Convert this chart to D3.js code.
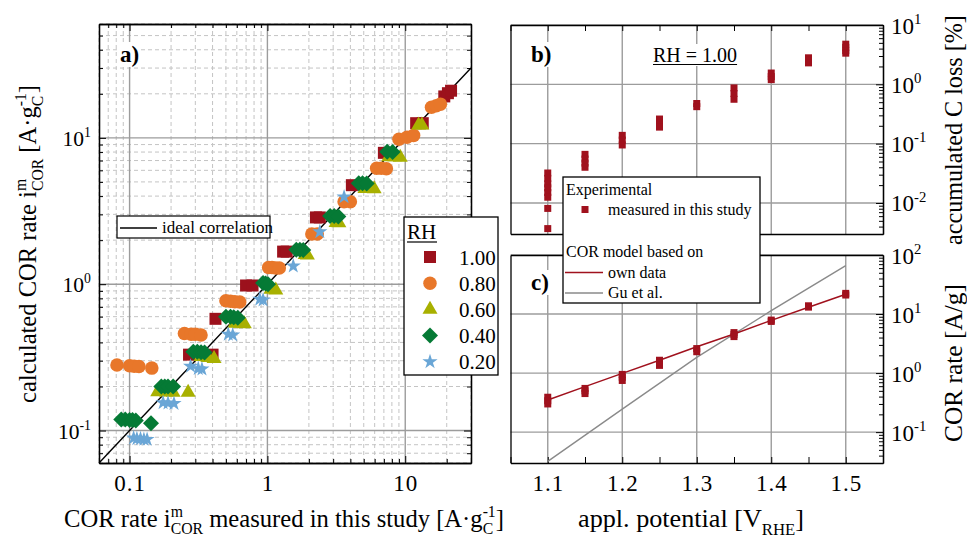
<!DOCTYPE html>
<html><head><meta charset="utf-8">
<script src="https://cdn.jsdelivr.net/npm/d3@7"></script>
<style>
body{margin:0;background:#fff}
svg{display:block}
</style>
</head><body>
<svg id="chart" width="967" height="538"></svg>
<script>
// ---------------- DATA ----------------
// Panel a: [measured, calculated] COR rate (A/gC) for each RH level
const rhLabels = ["1.00", "0.80", "0.60", "0.40", "0.20"];
const rh100 = [[0.27,0.33],[0.40,0.33],[0.42,0.58],[0.70,0.98],[0.78,0.98],[1.30,1.67],[1.38,1.67],
  [2.25,2.86],[2.40,2.86],[4.1,4.75],[7.0,7.9],[12.0,12.6],[13.4,12.6],[19.2,19.2],[20.4,20.2],[21.5,21.0]];
const rh080 = [[0.081,0.28],[0.100,0.277],[0.108,0.275],[0.117,0.274],[0.145,0.267],
  [0.25,0.46],[0.28,0.455],[0.30,0.455],[0.33,0.45],
  [0.50,0.77],[0.54,0.765],[0.58,0.76],[0.63,0.755],
  [1.02,1.30],[1.08,1.30],[1.15,1.29],[1.22,1.29],
  [2.1,2.2],[2.3,2.2],[3.6,3.66],[4.0,3.66],
  [6.2,6.2],[6.7,6.2],[7.3,6.15],[9.0,9.8],[10.3,10.1],[11.5,10.4],
  [15.5,16.2],[16.8,16.6],[18.0,17.0]];
const rh060 = [[0.16,0.184],[0.185,0.183],[0.207,0.182],[0.266,0.182],
  [0.33,0.32],[0.37,0.315],[0.41,0.31],
  [0.58,0.54],[0.63,0.54],[0.68,0.535],
  [1.06,0.92],[1.15,0.91],[1.88,1.59],[1.95,1.58],
  [3.15,2.63],[3.30,2.62],[5.1,4.5],[5.5,4.5],[5.95,4.48],
  [7.6,7.4],[8.4,7.4],[9.2,7.35],[12.5,12.2],[13.2,12.2]];
const rh040 = [[0.087,0.119],[0.093,0.119],[0.100,0.118],[0.105,0.118],[0.111,0.117],[0.143,0.112],
  [0.17,0.2],[0.18,0.2],[0.19,0.2],[0.207,0.2],
  [0.29,0.345],[0.31,0.345],[0.33,0.343],[0.35,0.342],
  [0.50,0.60],[0.54,0.60],[0.57,0.595],[0.61,0.59],
  [0.93,1.02],[0.97,1.01],[1.01,1.0],
  [1.62,1.72],[1.72,1.72],[1.82,1.71],[2.85,2.93],[3.05,2.93],[3.27,2.9],
  [4.6,4.9],[4.9,4.9],[5.25,4.88],[7.4,8.05],[8.1,8.0]];
const rh020 = [[0.107,0.089],[0.113,0.088],[0.120,0.088],[0.127,0.087],[0.134,0.087],
  [0.175,0.155],[0.19,0.154],[0.21,0.153],
  [0.277,0.275],[0.315,0.265],[0.335,0.263],
  [0.52,0.455],[0.56,0.45],[0.88,0.79],[0.93,0.78],
  [1.54,1.33],[2.4,2.28],[3.6,3.95]];
const idealEnds = [0.06, 30];

// Panel b: accumulated C loss (%) at RH = 1.00, per applied potential (V_RHE)
const potentials = [1.10, 1.15, 1.20, 1.25, 1.30, 1.35, 1.40, 1.45, 1.50];
const cLoss = [
  [0.032,0.026,0.021,0.018,0.015,0.0125,0.0081,0.0037],
  [0.066,0.055,0.047,0.040],
  [0.138,0.115,0.095],
  [0.26,0.22,0.19],
  [0.475,0.42],
  [0.87,0.70,0.56],
  [1.55,1.35,1.2],
  [2.8,2.55,2.3],
  [4.75,4.2,3.7,3.35]];
// Panel c: COR rate (A/g)
const corRate = [
  [0.39,0.34,0.30],
  [0.55,0.50,0.45],
  [0.95,0.85,0.75],
  [1.65,1.50,1.35],
  [2.6,2.3],
  [4.85,4.5,4.15],
  [7.9,7.5],
  [13.8,13.1],
  [22.4,21.0]];
const ownModel = [0.35,0.59,0.99,1.65,2.8,4.6,7.8,13.0,21.6];
const guPotentials = [1.1, 1.2, 1.3, 1.4, 1.5];
const guModel = [0.032, 0.245, 1.85, 11.4, 66];

// ---------------- HELPERS ----------------
const SERIF = '"Liberation Serif","Times New Roman",serif';
const svg = d3.select('#chart');

function rich(parent, x, y, segs, fs, anchor = 'start', rot = 0, fitLen = 0) {
  const g = parent.append('g').attr('transform', `translate(${x},${y})` + (rot ? ` rotate(${rot})` : ''));
  const t = g.append('text').attr('font-size', fs).attr('font-family', SERIF).attr('fill', '#000');
  let cur = 0, prev = 0;
  segs.forEach(s => {
    const seg = typeof s === 'string' ? {t: s} : s;
    const sp = t.append('tspan').text(seg.t);
    const target = seg.s === 'sup' ? -0.42 * fs : seg.s === 'sub' ? 0.3 * fs : 0;
    if (seg.s) sp.attr('font-size', 0.64 * fs);
    if (target !== cur) sp.attr('dy', target - cur);
    cur = target;
    if (seg.back) sp.attr('dx', -prev);
    prev = sp.node().getComputedTextLength();
  });
  const bb = t.node().getBBox();
  if (fitLen) {
    g.remove();
    return rich(parent, x, y, segs, fs * fitLen / bb.width, anchor, rot, 0);
  }
  let dx = 0;
  if (anchor === 'middle') dx = -(bb.x + bb.width / 2);
  else if (anchor === 'end') dx = -(bb.x + bb.width);
  t.attr('x', dx);
  return g;
}
function labelWithBg(parent, x, y, txt, fs, weight, underline) {
  const g = parent.append('g');
  const t = g.append('text').attr('x', x).attr('y', y).attr('font-size', fs)
    .attr('font-family', SERIF).attr('font-weight', weight).text(txt);
  const bb = t.node().getBBox();
  g.insert('rect', 'text').attr('x', bb.x - 1).attr('y', bb.y).attr('width', bb.width + 2)
    .attr('height', bb.height).attr('fill', '#fff');
  if (underline) g.append('line').attr('x1', bb.x).attr('x2', bb.x + bb.width)
    .attr('y1', y + 2.5).attr('y2', y + 2.5).attr('stroke', '#000').attr('stroke-width', 1.2);
  return g;
}
function styleAxis(g, sw = 1.3) {
  g.attr('font-family', SERIF).attr('font-size', 23);
  g.selectAll('.domain').attr('stroke', '#000').attr('stroke-width', sw);
  g.selectAll('.tick line').attr('stroke', '#000').attr('stroke-width', 1);
  g.selectAll('.tick text').attr('fill', '#000').attr('letter-spacing', 1);
}
const isDecade = d => Math.abs(Math.log10(d) - Math.round(Math.log10(d))) < 1e-9;

const shapes = {
  square: s => `M${-s/2},${-s/2}h${s}v${s}h${-s}Z`,
  circle: s => d3.symbol(d3.symbolCircle, Math.PI * (s/2) * (s/2))(),
  triangle: s => { const h = s * 0.87; return `M0,${-h*2/3}L${s/2},${h/3}L${-s/2},${h/3}Z`; },
  diamond: s => `M0,${-s/2}L${s/2},0L0,${s/2}L${-s/2},0Z`,
  star: s => d3.symbol(d3.symbolStar, (s/2) * (s/2) / 0.8908130915292852)()
};
const seriesA = [
  {label: rhLabels[0], data: rh100, color: '#9c111c', shape: 'square', size: 12},
  {label: rhLabels[1], data: rh080, color: '#e8772a', shape: 'circle', size: 13.5},
  {label: rhLabels[2], data: rh060, color: '#a8b000', shape: 'triangle', size: 15},
  {label: rhLabels[3], data: rh040, color: '#057a35', shape: 'diamond', size: 16},
  {label: rhLabels[4], data: rh020, color: '#6aa6d6', shape: 'star', size: 16}
];

// ---------------- PANEL A ----------------
const xA = d3.scaleLog().domain([0.06, 30]).range([99, 471]);
const yA = d3.scaleLog().domain([0.06, 60]).range([463, 24]);
const gA = svg.append('g');
const xAll = xA.ticks(), yAll = yA.ticks();
const xMaj = xAll.filter(isDecade), xMin = xAll.filter(d => !isDecade(d));
const yMaj = yAll.filter(isDecade), yMin = yAll.filter(d => !isDecade(d));

const gridA = gA.append('g');
gridA.selectAll('.vmin').data(xMin).join('line').attr('x1', d => xA(d)).attr('x2', d => xA(d))
  .attr('y1', 24).attr('y2', 463).attr('stroke', '#c4c4c4').attr('stroke-dasharray', '4,3').attr('stroke-width', 1);
gridA.selectAll('.hmin').data(yMin).join('line').attr('y1', d => yA(d)).attr('y2', d => yA(d))
  .attr('x1', 99).attr('x2', 471).attr('stroke', '#c4c4c4').attr('stroke-dasharray', '4,3').attr('stroke-width', 1);
gridA.selectAll('.vmaj').data(xMaj).join('line').attr('x1', d => xA(d)).attr('x2', d => xA(d))
  .attr('y1', 24).attr('y2', 463).attr('stroke', '#9c9c9c').attr('stroke-width', 1.4);
gridA.selectAll('.hmaj').data(yMaj).join('line').attr('y1', d => yA(d)).attr('y2', d => yA(d))
  .attr('x1', 99).attr('x2', 471).attr('stroke', '#9c9c9c').attr('stroke-width', 1.4);

// axes panel a
const fmtA = d => d < 1 ? '0.1' : d3.format('d')(d);
gA.append('g').attr('transform', 'translate(0,463)')
  .call(d3.axisBottom(xA).tickValues(xMaj).tickSize(-7).tickSizeOuter(0).tickPadding(12).tickFormat(fmtA)).call(styleAxis);
gA.append('g').attr('transform', 'translate(0,463)')
  .call(d3.axisBottom(xA).tickValues(xMin).tickSize(-4).tickSizeOuter(0).tickFormat('')).call(styleAxis);
gA.append('g').attr('transform', 'translate(0,24)')
  .call(d3.axisTop(xA).tickValues(xMaj).tickSize(-7).tickSizeOuter(0).tickFormat('')).call(styleAxis);
gA.append('g').attr('transform', 'translate(0,24)')
  .call(d3.axisTop(xA).tickValues(xMin).tickSize(-4).tickSizeOuter(0).tickFormat('')).call(styleAxis);
gA.append('g').attr('transform', 'translate(99,0)')
  .call(d3.axisLeft(yA).tickValues(yMaj).tickSize(-7).tickSizeOuter(0).tickFormat('')).call(styleAxis);
gA.append('g').attr('transform', 'translate(99,0)')
  .call(d3.axisLeft(yA).tickValues(yMin).tickSize(-4).tickSizeOuter(0).tickFormat('')).call(styleAxis);
gA.append('g').attr('transform', 'translate(471,0)')
  .call(d3.axisRight(yA).tickValues(yMaj).tickSize(-7).tickSizeOuter(0).tickFormat('')).call(styleAxis);
gA.append('g').attr('transform', 'translate(471,0)')
  .call(d3.axisRight(yA).tickValues(yMin).tickSize(-4).tickSizeOuter(0).tickFormat('')).call(styleAxis);
yMaj.forEach(d => rich(gA, 91, yA(d) + 8, ['10', {t: String(Math.round(Math.log10(d))), s: 'sup'}], 21.5, 'end'));

// ideal line
gA.append('path').datum(idealEnds.map(v => [v, v]))
  .attr('d', d3.line().x(d => xA(d[0])).y(d => yA(d[1])))
  .attr('stroke', '#000').attr('stroke-width', 1.4).attr('fill', 'none');

// markers
seriesA.forEach(s => {
  gA.append('g').selectAll('path').data(s.data).join('path')
    .attr('transform', d => `translate(${xA(d[0])},${yA(d[1])})`)
    .attr('d', shapes[s.shape](s.size)).attr('fill', s.color);
});

// panel a labels
labelWithBg(gA, 120, 62, 'a)', 23, 'bold');
// ideal correlation legend
const lgI = gA.append('g');
lgI.append('rect').attr('x', 117).attr('y', 216).attr('width', 153).attr('height', 22)
  .attr('fill', '#fff').attr('stroke', '#000').attr('stroke-width', 1.2);
lgI.append('line').attr('x1', 120).attr('x2', 157).attr('y1', 228).attr('y2', 228).attr('stroke', '#000').attr('stroke-width', 1.4);
lgI.append('text').attr('x', 162).attr('y', 233).attr('font-size', 17).attr('font-family', SERIF).text('ideal correlation');
// RH legend
const lgR = gA.append('g');
lgR.append('rect').attr('x', 404).attr('y', 217).attr('width', 94).attr('height', 158)
  .attr('fill', '#fff').attr('stroke', '#000').attr('stroke-width', 1.3);
lgR.append('text').attr('x', 407).attr('y', 239).attr('font-size', 21).attr('font-family', SERIF).text('RH');
lgR.append('line').attr('x1', 407).attr('x2', 437).attr('y1', 242).attr('y2', 242).attr('stroke', '#000').attr('stroke-width', 1.2);
seriesA.forEach((s, i) => {
  const cy = 257 + i * 26.2;
  lgR.append('path').attr('transform', `translate(430,${cy})`).attr('d', shapes[s.shape](s.size)).attr('fill', s.color);
  lgR.append('text').attr('x', 459).attr('y', cy + 7.5).attr('font-size', 21).attr('font-family', SERIF).text(s.label);
});

// axis titles panel a
rich(svg, 284, 527, ['COR rate i', {t: 'm', s: 'sup'}, {t: 'COR', s: 'sub', back: true}, ' measured in this study [A·g',
  {t: 'C', s: 'sub'}, {t: '-1', s: 'sup', back: true}, ']'], 21, 'middle', 0, 440);
rich(svg, 36, 244, ['calculated COR rate i', {t: 'm', s: 'sup'}, {t: 'COR', s: 'sub', back: true}, ' [A·g',
  {t: 'C', s: 'sub'}, {t: '-1', s: 'sup', back: true}, ']'], 21, 'middle', -90, 318);

// ---------------- PANELS B & C ----------------
const xB = d3.scaleLinear().domain([1.05, 1.55]).range([510.5, 883]);
const yB = d3.scaleLog().domain([0.003, 10]).range([234, 25]);
const yC = d3.scaleLog().domain([0.03, 100]).range([463, 255]);
const gB = svg.append('g');
const xMajB = xB.ticks(5), xAllB = xB.ticks(10);

function panelGrid(y, top, bottom) {
  const dec = y.ticks().filter(isDecade);
  gB.append('g').selectAll('line').data(xMajB).join('line')
    .attr('x1', d => xB(d)).attr('x2', d => xB(d)).attr('y1', top).attr('y2', bottom)
    .attr('stroke', '#9c9c9c').attr('stroke-width', 1.4);
  gB.append('g').selectAll('line').data(dec).join('line')
    .attr('y1', d => y(d)).attr('y2', d => y(d)).attr('x1', 510.5).attr('x2', 883)
    .attr('stroke', '#9c9c9c').attr('stroke-width', 1.4);
}
panelGrid(yB, 25, 234);
panelGrid(yC, 255, 463);

function rightAxis(y) {
  const all = y.ticks(), maj = all.filter(isDecade), min = all.filter(d => !isDecade(d));
  gB.append('g').attr('transform', 'translate(883,0)')
    .call(d3.axisRight(y).tickValues(maj).tickSize(-7).tickSizeOuter(0).tickFormat('')).call(styleAxis);
  gB.append('g').attr('transform', 'translate(883,0)')
    .call(d3.axisRight(y).tickValues(min).tickSize(-4).tickSizeOuter(0).tickFormat('')).call(styleAxis);
  gB.append('g').attr('transform', 'translate(510.5,0)')
    .call(d3.axisLeft(y).tickValues([]).tickSizeOuter(0)).call(styleAxis);
  maj.forEach(d => rich(gB, 891, y(d) + 8.5, ['10', {t: String(Math.round(Math.log10(d))), s: 'sup'}], 23, 'start'));
}
rightAxis(yB);
rightAxis(yC);
const fmtB = d => Math.abs(d * 10 - Math.round(d * 10)) < 1e-6 ? d3.format('.1f')(d) : '';
gB.append('g').attr('transform', 'translate(0,25)')
  .call(d3.axisTop(xB).tickValues(xAllB).tickSize(-6).tickSizeOuter(0).tickFormat('')).call(styleAxis);
gB.append('g').attr('transform', 'translate(0,234)')
  .call(d3.axisBottom(xB).tickValues([]).tickSizeOuter(0)).call(styleAxis);
gB.append('g').attr('transform', 'translate(0,255)')
  .call(d3.axisTop(xB).tickValues([]).tickSizeOuter(0)).call(styleAxis);
gB.append('g').attr('transform', 'translate(0,463)')
  .call(d3.axisBottom(xB).tickValues(xAllB).tickSize(-6).tickSizeOuter(0).tickPadding(12).tickFormat(fmtB)).call(styleAxis);

// data b
const RED = '#a0111d';
const bPts = potentials.flatMap((p, i) => cLoss[i].map(v => ({p, v})));
gB.append('g').selectAll('rect').data(bPts).join('rect')
  .attr('x', d => xB(d.p) - 3.5).attr('y', d => yB(d.v) - 3.5).attr('width', 7).attr('height', 7).attr('fill', RED);

// data c
const line = d3.line().x(d => xB(d[0])).y(d => yC(d[1]));
gB.append('path').datum(guPotentials.map((p, i) => [p, guModel[i]])).attr('d', line)
  .attr('fill', 'none').attr('stroke', '#8a8a8a').attr('stroke-width', 1.4);
gB.append('path').datum(potentials.map((p, i) => [p, ownModel[i]])).attr('d', line)
  .attr('fill', 'none').attr('stroke', RED).attr('stroke-width', 1.5);
const cPts = potentials.flatMap((p, i) => corRate[i].map(v => ({p, v})));
gB.append('g').selectAll('rect').data(cPts).join('rect')
  .attr('x', d => xB(d.p) - 3.5).attr('y', d => yC(d.v) - 3.5).attr('width', 7).attr('height', 7).attr('fill', RED);

// labels b/c
labelWithBg(gB, 531, 62, 'b)', 23, 'bold');
labelWithBg(gB, 531, 290, 'c)', 23, 'bold');
labelWithBg(gB, 653, 62, 'RH = 1.00', 20, 'normal', true);

// legend b/c
const lgB = gB.append('g');
lgB.append('rect').attr('x', 563).attr('y', 177).attr('width', 197).attr('height', 126)
  .attr('fill', '#fff').attr('stroke', '#000').attr('stroke-width', 1.3);
const lt = (x, y, s) => lgB.append('text').attr('x', x).attr('y', y).attr('font-size', 16).attr('font-family', SERIF).text(s);
lt(566, 195, 'Experimental');
lgB.append('rect').attr('x', 581.5).attr('y', 206).attr('width', 7).attr('height', 7).attr('fill', RED);
lt(608, 215, 'measured in this study');
lt(566, 257, 'COR model based on');
lgB.append('line').attr('x1', 565).attr('x2', 603).attr('y1', 272.5).attr('y2', 272.5).attr('stroke', RED).attr('stroke-width', 1.5);
lt(608, 278, 'own data');
lgB.append('line').attr('x1', 565).attr('x2', 603).attr('y1', 293).attr('y2', 293).attr('stroke', '#8a8a8a').attr('stroke-width', 1.4);
lt(608, 298, 'Gu et al.');

// titles b/c
rich(svg, 691, 527, ['appl. potential [V', {t: 'RHE', s: 'sub'}, ']'], 21, 'middle', 0, 226);
rich(svg, 962, 130, ['accumulated C loss [%]'], 21, 'middle', -90, 230);
rich(svg, 962, 363, ['COR rate [A/g]'], 21, 'middle', -90, 158);
</script>
</body></html>
